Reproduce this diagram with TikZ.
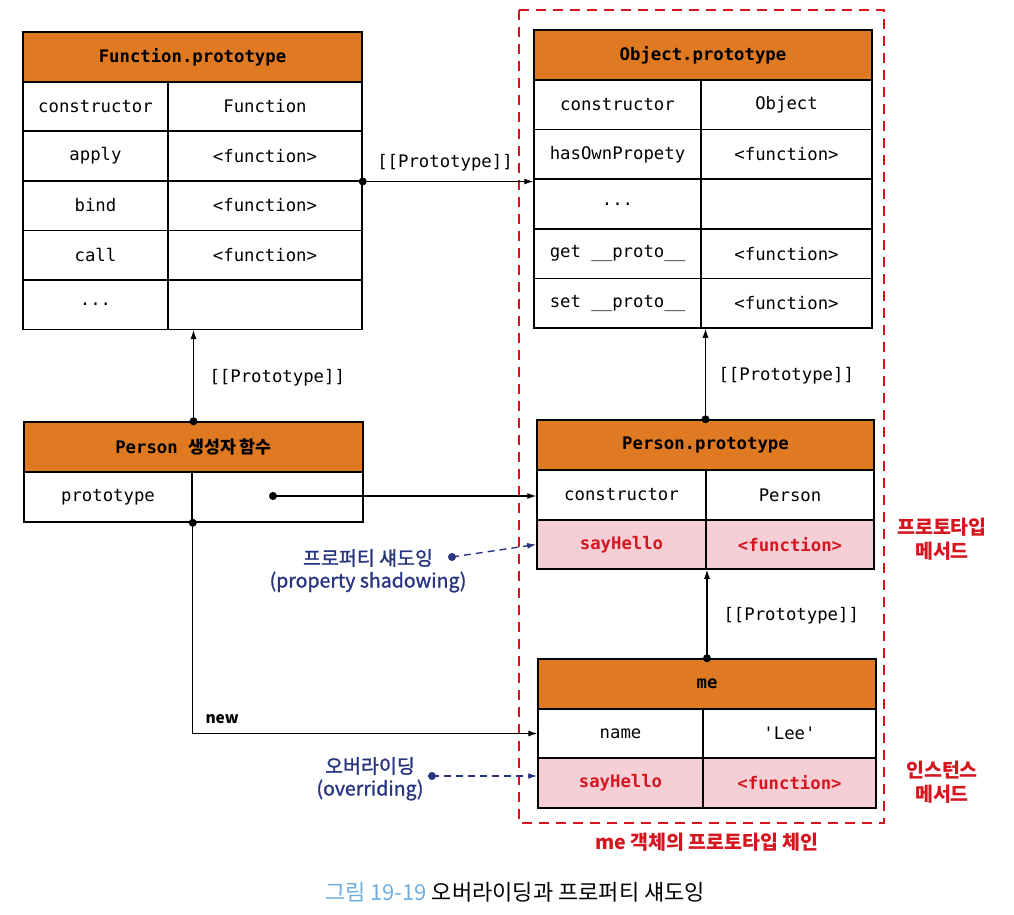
\documentclass[tikz,border=0pt]{standalone}
\usepackage{fontspec}
\setmainfont{Noto Sans CJK KR}
\setmonofont{DejaVu Sans Mono}
\newfontfamily\kr{Noto Sans CJK KR}
\newfontfamily\krmed[FakeBold=1.2]{Noto Sans CJK KR}
\usetikzlibrary{arrows.meta}
\definecolor{hdrorange}{HTML}{E07A22}
\definecolor{pinkrow}{HTML}{F6CFD6}
\definecolor{redtxt}{HTML}{D5161F}
\definecolor{navy}{HTML}{283580}
\definecolor{capblue}{HTML}{6FAEDD}
\newcommand\cell[7]{\node[#6, minimum width=#4pt, minimum height=#5pt] (#1) at (#2,#3) {#7};}
\begin{document}
\begin{tikzpicture}[x=1pt,y=-1pt,
  cellbox/.style={draw=black, line width=1.5pt, inner sep=0pt, text=black, font=\ttfamily\fontsize{17.3}{19}\selectfont},
  hdrbox/.style={cellbox, fill=hdrorange, font=\ttfamily\bfseries\fontsize{17.3}{19}\selectfont},
  redcell/.style={cellbox, fill=pinkrow, text=redtxt, font=\ttfamily\bfseries\fontsize{17.3}{19}\selectfont},
  link/.style={line width=1.1pt, -{Latex[length=9pt,width=6pt]}},
  shadowlink/.style={navy, line width=1.4pt, dash pattern=on 7pt off 5pt, -{Latex[length=9pt,width=6pt]}},
  lbl/.style={font=\ttfamily\fontsize{17.3}{19}\selectfont},
  navylbl/.style={text=navy, font=\krmed\fontsize{19.5}{21}\selectfont},
  redlbl/.style={text=redtxt, align=center, font=\kr\bfseries\fontsize{19.5}{24}\selectfont},
]
\useasboundingbox (0,0) rectangle (1014,915);
\fill[white] (0,0) rectangle (1014,915);

% Function.prototype
\cell{fph}{192.5}{57}{339}{50}{hdrbox}{Function.prototype}
\cell{fpc}{95.5}{106.5}{145}{49.5}{cellbox}{constructor}
\cell{fpcv}{265}{106.5}{194}{49.5}{cellbox}{Function}
\cell{fpa}{95.5}{156}{145}{49.5}{cellbox}{apply}
\cell{fpav}{265}{156}{194}{49.5}{cellbox}{<function>}
\cell{fpb}{95.5}{205.5}{145}{49.5}{cellbox}{bind}
\cell{fpbv}{265}{205.5}{194}{49.5}{cellbox}{<function>}
\cell{fpl}{95.5}{255}{145}{49.5}{cellbox}{call}
\cell{fplv}{265}{255}{194}{49.5}{cellbox}{<function>}
\cell{fpd}{95.5}{304.5}{145}{49.5}{cellbox}{...}
\cell{fpdv}{265}{304.5}{194}{49.5}{cellbox}{}

% Object.prototype
\cell{oph}{703}{55}{338}{50}{hdrbox}{Object.prototype}
\cell{opc}{617.5}{104.8}{167}{49.6}{cellbox}{constructor}
\cell{opcv}{786.5}{104.8}{171}{49.6}{cellbox}{Object}
\cell{opa}{617.5}{154.4}{167}{49.6}{cellbox}{hasOwnPropety}
\cell{opav}{786.5}{154.4}{171}{49.6}{cellbox}{<function>}
\cell{opd}{617.5}{204}{167}{49.6}{cellbox}{...}
\cell{opdv}{786.5}{204}{171}{49.6}{cellbox}{}
\cell{opg}{617.5}{253.6}{167}{49.6}{cellbox}{get \_\_proto\_\_}
\cell{opgv}{786.5}{253.6}{171}{49.6}{cellbox}{<function>}
\cell{ops}{617.5}{303.2}{167}{49.6}{cellbox}{set \_\_proto\_\_}
\cell{opsv}{786.5}{303.2}{171}{49.6}{cellbox}{<function>}

% Person constructor
\cell{pch}{193.5}{447}{339}{50}{hdrbox}{Person {\kr\bfseries 생성자 함수}}
\cell{pcp}{108}{497}{168}{50}{cellbox}{prototype}
\cell{pcpv}{277.5}{497}{171}{50}{cellbox}{}

% Person.prototype
\cell{pph}{705.5}{445}{337}{50}{hdrbox}{Person.prototype}
\cell{ppc}{621.5}{495}{169}{50}{cellbox}{constructor}
\cell{ppcv}{790}{495}{168}{50}{cellbox}{Person}
\cell{pps}{621.5}{544.5}{169}{49}{redcell}{sayHello}
\cell{ppsv}{790}{544.5}{168}{49}{redcell}{<function>}

% me
\cell{meh}{707}{684}{338}{50}{hdrbox}{me}
\cell{men}{620.5}{733.5}{165}{49}{cellbox}{name}
\cell{menv}{789.5}{733.5}{173}{49}{cellbox}{'Lee'}
\cell{mes}{620.5}{783}{165}{50}{redcell}{sayHello}
\cell{mesv}{789.5}{783}{173}{50}{redcell}{<function>}

% red dashed frame
\draw[redtxt, line width=2.5pt, dash pattern=on 10pt off 7pt] (519,10) rectangle (884,823);

% connectors
\coordinate (d1) at (fpav.south east);
\draw[link] (d1) -- (d1 -| opa.west);
\fill (d1) circle (4);
\node[lbl] (l1) at (445,163) {[[Prototype]]};

\draw[link] (pch.north) -- (pch.north |- fpdv.south);
\fill (pch.north) circle (4);
\node[lbl, anchor=west] (l2) at (206,378) {[[Prototype]]};

\draw[link] (pph.north) -- (pph.north |- opsv.south);
\fill (pph.north) circle (4);
\node[lbl, anchor=west] (l3) at (715,376) {[[Prototype]]};

\draw[link] (meh.north) -- (meh.north |- ppsv.south);
\fill (meh.north) circle (4);
\node[lbl, anchor=west] (l4) at (720,616) {[[Prototype]]};

\coordinate (d5) at (273,496);
\draw[link] (d5) -- (d5 -| ppc.west);
\fill (d5) circle (4);

\coordinate (d6) at (pcp.south east);
\draw[link] (d6) |- (men.west);
\fill (d6) circle (4);
\node[font=\kr\bfseries\fontsize{15.5}{16}\selectfont, anchor=west] (newl) at (202,719) {new};

% shadowing / overriding
\coordinate (d7) at (452,557);
\draw[shadowlink] (d7) -- (pps.west);
\fill[navy] (d7) circle (4);
\node[navylbl] (sh1) at (368,558) {프로퍼티 섀도잉};
\node[navylbl] (sh2) at (368,582) {(property shadowing)};

\coordinate (d8) at (432,776);
\draw[shadowlink] (d8) -- (d8 -| mes.west);
\fill[navy] (d8) circle (4);
\node[navylbl] (ov1) at (370,766) {오버라이딩};
\node[navylbl] (ov2) at (370,790) {(overriding)};

% red labels
\node[redlbl] (pm) at (942,539) {프로토타입\\메서드};
\node[redlbl] (im) at (942,782) {인스턴스\\메서드};
\node[redlbl] (chain) at (707,842) {me 객체의 프로토타입 체인};

% caption
\node[font=\kr\fontsize{22}{24}\selectfont] (cap) at (515,892) {{\color{capblue}그림 19-19} 오버라이딩과 프로퍼티 섀도잉};
\end{tikzpicture}
\end{document}
